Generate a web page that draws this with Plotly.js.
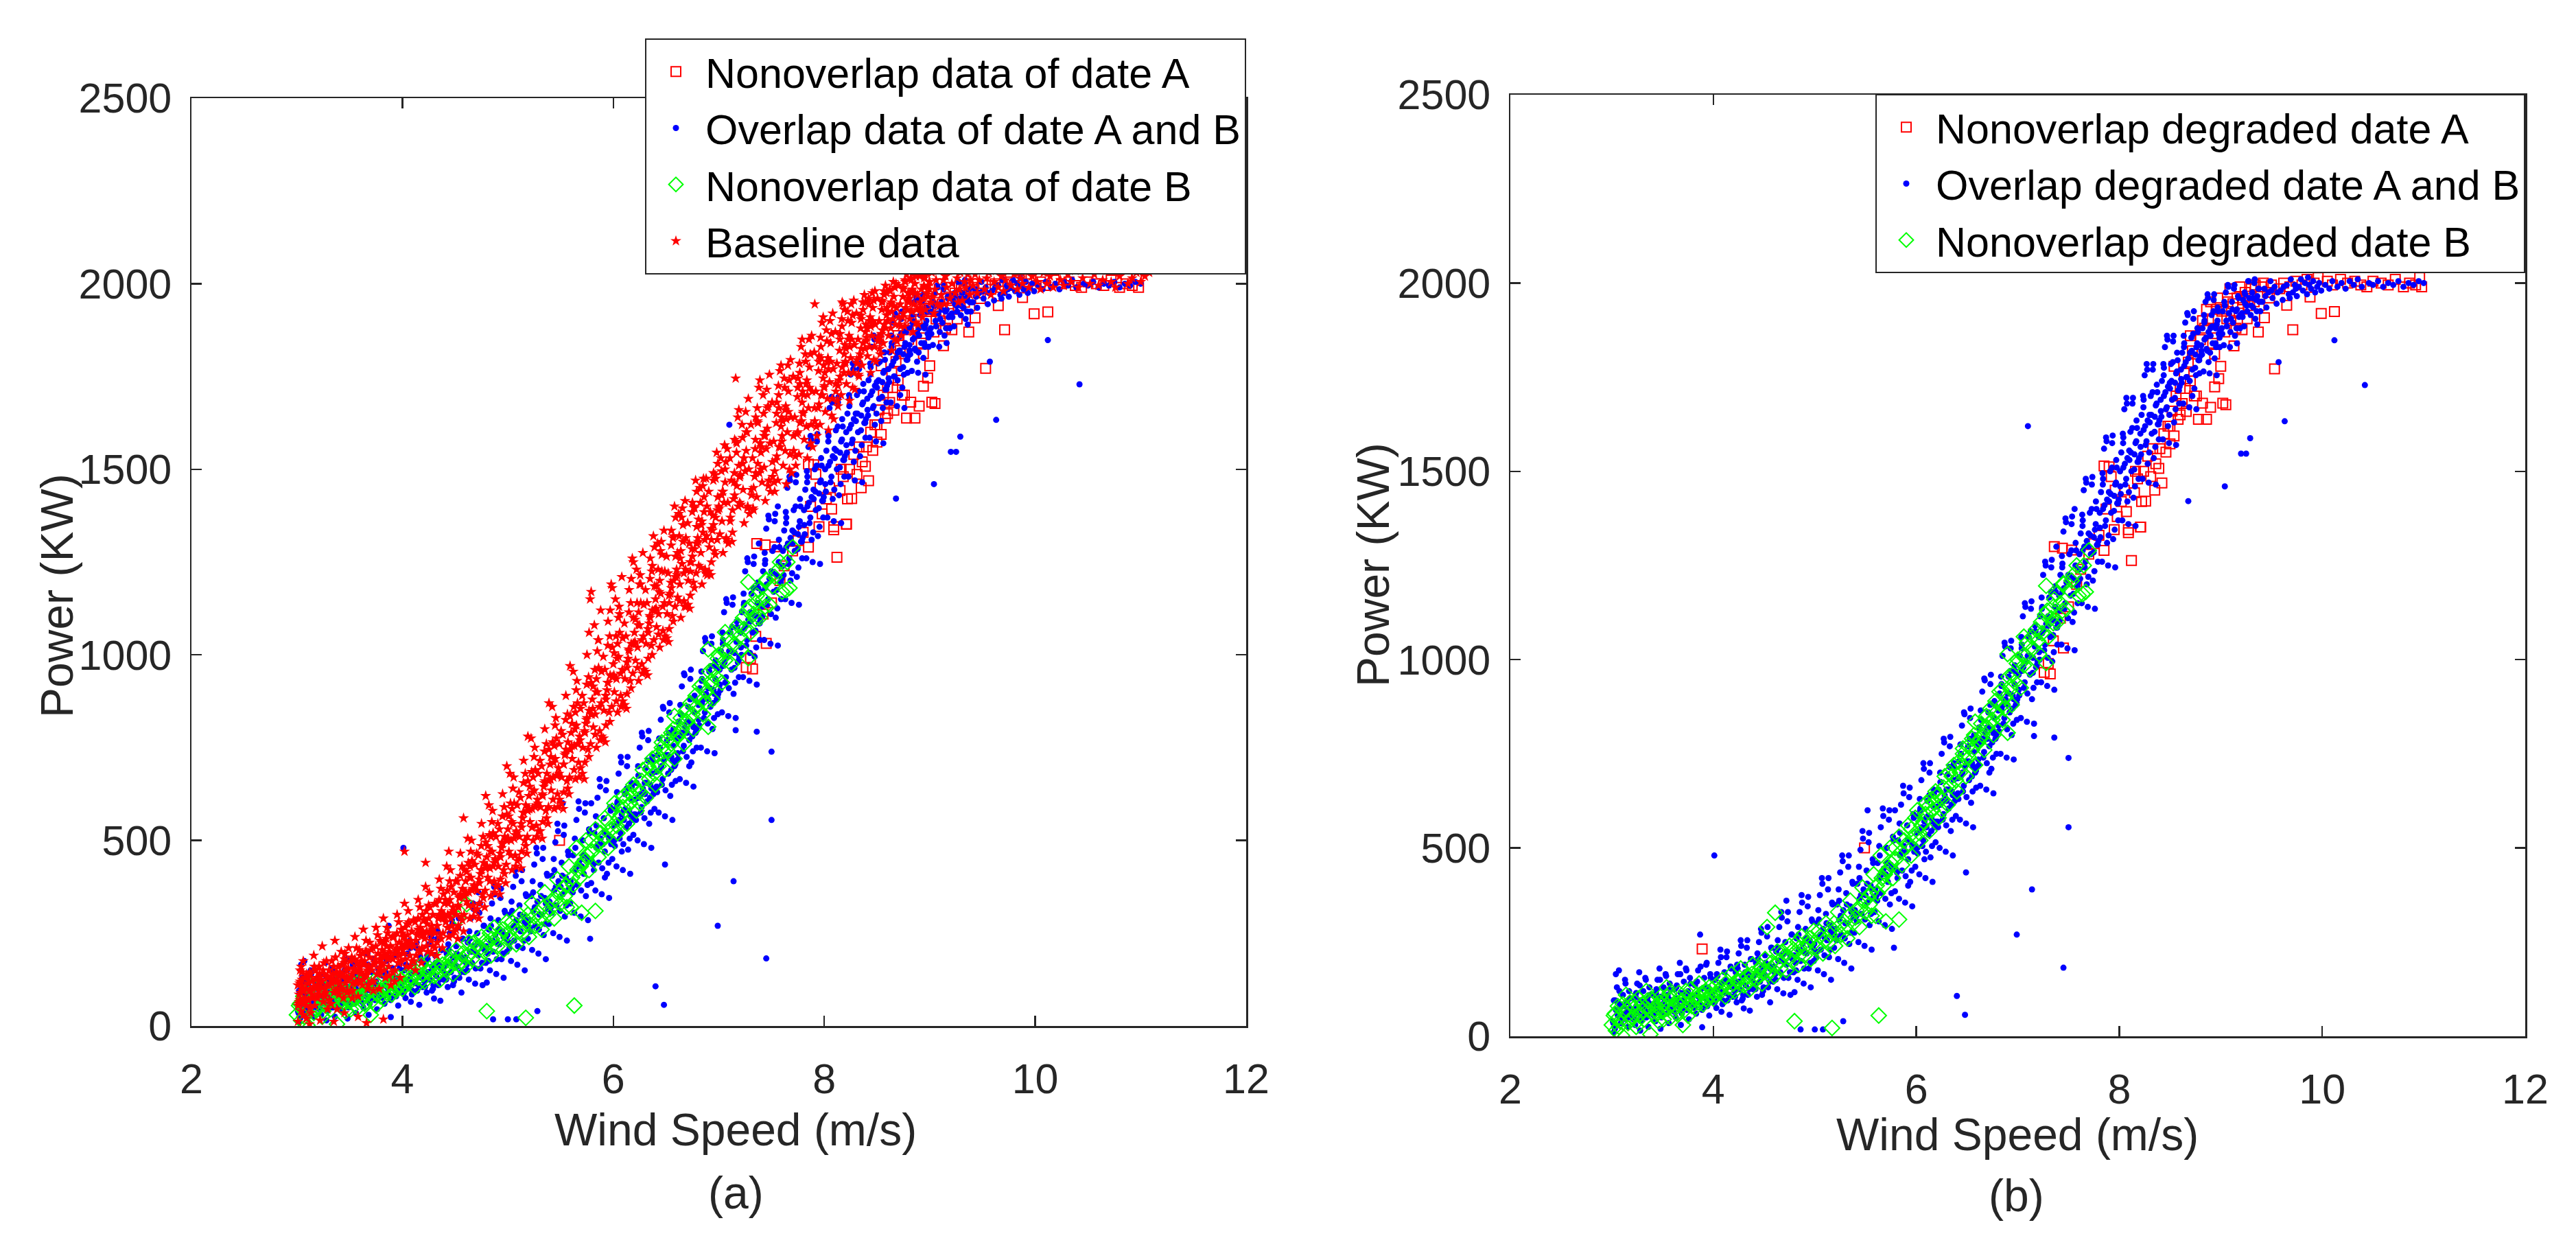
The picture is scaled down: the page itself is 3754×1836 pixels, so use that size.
<!DOCTYPE html>
<html>
<head>
<meta charset="utf-8">
<script src="https://cdn.plot.ly/plotly-3.0.1.min.js"></script>
<style>
html,body{margin:0;padding:0;background:#fff;}
#chart{width:3754px;height:1836px;}
</style>
</head>
<body>
<div id="chart"></div>
<script>
// ---------------- DATA (wind speed m/s, power kW), flat [x,y,x,y,...] ----------------
const baselinePairs = [
3.01,12,3.02,85,3.03,150,3.04,40,3.05,110,3.06,175,3.07,60,3.08,130,3.09,20,3.02,65,3.05,95,3.08,75,3.03,120,3.06,30,3.09,140,3.04,160,3.01,55,
3.12,5,3.35,12,3.58,25,3.66,8,3.82,18,3.45,35,
3.11,70,3.12,145,3.13,35,3.15,100,3.16,190,3.17,55,3.18,125,3.19,80,3.21,160,3.22,15,3.23,105,3.24,215,3.25,65,3.26,140,3.27,90,3.28,175,3.29,45,3.14,120,3.20,110,3.26,85,3.12,95,3.18,150,3.29,130,
3.31,110,3.32,60,3.33,175,3.34,140,3.35,90,3.36,230,3.37,120,3.38,45,3.39,160,3.41,100,3.42,200,3.43,135,3.44,75,3.45,180,3.46,115,3.47,150,3.48,95,3.49,210,3.33,125,3.38,145,3.44,165,3.40,85,3.47,130,
3.51,130,3.52,185,3.53,95,3.54,155,3.55,240,3.56,120,3.57,170,3.58,80,3.59,205,3.61,145,3.62,110,3.63,260,3.64,175,3.65,135,3.66,200,3.67,100,3.68,160,3.69,225,3.55,150,3.60,190,3.66,140,3.53,115,
3.71,150,3.72,210,3.73,120,3.74,180,3.75,265,3.76,140,3.77,195,3.78,100,3.79,230,3.81,165,3.82,290,3.83,185,3.84,130,3.85,215,3.86,250,3.87,160,3.88,200,3.89,110,3.74,170,3.80,225,3.86,185,3.78,155,
3.91,180,3.92,240,3.93,150,3.94,205,3.95,300,3.96,170,3.97,225,3.98,130,3.99,260,4.01,195,4.02,330,4.03,215,4.04,160,4.05,245,4.06,280,4.07,190,4.08,230,4.09,175,3.95,210,4.00,250,4.06,220,4.02,470,3.97,190,
4.11,215,4.12,280,4.13,190,4.14,245,4.15,340,4.16,205,4.17,265,4.18,170,4.19,300,4.21,235,4.22,375,4.23,255,4.24,200,4.25,290,4.26,320,4.27,230,4.28,270,4.29,215,4.15,260,4.20,285,4.26,250,4.13,230,4.22,440,
4.31,250,4.32,330,4.33,225,4.34,290,4.35,395,4.36,245,4.37,310,4.38,210,4.39,355,4.41,280,4.42,430,4.43,300,4.44,240,4.45,340,4.46,375,4.47,270,4.48,320,4.49,255,4.35,300,4.40,330,4.46,290,4.33,270,4.44,470,
4.51,300,4.52,390,4.53,270,4.54,345,4.55,465,4.56,295,4.57,370,4.58,255,4.59,420,4.61,335,4.62,505,4.63,360,4.64,290,4.65,400,4.66,445,4.67,325,4.68,380,4.69,310,4.55,355,4.60,390,4.66,365,4.53,320,4.58,560,4.64,430,
4.71,365,4.72,460,4.73,330,4.74,410,4.75,545,4.76,355,4.77,440,4.78,320,4.79,495,4.81,400,4.82,595,4.83,425,4.84,350,4.85,470,4.86,520,4.87,390,4.88,450,4.89,375,4.75,420,4.80,455,4.86,430,4.73,385,4.79,620,4.84,510,
4.91,430,4.92,530,4.93,395,4.94,480,4.95,625,4.96,420,4.97,510,4.98,385,4.99,570,5.01,470,5.02,680,5.03,500,5.04,420,5.05,545,5.06,600,5.07,460,5.08,525,5.09,445,4.95,490,5.00,530,5.06,505,4.93,455,4.99,700,5.04,585,
5.11,510,5.12,615,5.13,470,5.14,560,5.15,715,5.16,500,5.17,595,5.18,465,5.19,660,5.21,550,5.22,775,5.23,585,5.24,500,5.25,635,5.26,690,5.27,540,5.28,610,5.29,525,5.15,575,5.20,620,5.26,590,5.13,535,5.19,780,5.24,670,
5.31,590,5.32,700,5.33,550,5.34,645,5.35,800,5.36,580,5.37,680,5.38,545,5.39,745,5.41,635,5.42,860,5.43,670,5.44,585,5.45,720,5.46,775,5.47,625,5.48,695,5.49,610,5.35,660,5.40,705,5.46,675,5.33,620,5.39,870,5.44,755,
5.51,670,5.52,785,5.53,630,5.54,730,5.55,890,5.56,660,5.57,765,5.58,625,5.59,835,5.61,720,5.62,955,5.63,755,5.64,665,5.65,810,5.66,870,5.67,710,5.68,780,5.69,695,5.55,745,5.60,790,5.66,760,5.53,705,5.59,970,5.64,845,
5.71,750,5.72,870,5.73,710,5.74,815,5.75,1000,5.76,745,5.77,850,5.78,1150,5.79,925,5.81,805,5.82,1080,5.83,840,5.84,750,5.85,900,5.86,965,5.87,795,5.88,1120,5.89,780,5.75,830,5.80,880,5.86,1040,5.73,790,5.79,1170,5.84,935,5.77,1060,
5.91,850,5.92,960,5.93,810,5.94,905,5.95,1090,5.96,845,5.97,945,5.98,1190,5.99,1020,6.01,900,6.02,1150,6.03,935,6.04,845,6.05,995,6.06,1060,6.07,890,6.08,1210,6.09,875,5.95,925,6.00,975,6.06,1110,5.93,880,5.99,1180,6.04,1030,5.97,1120,
6.11,935,6.12,1050,6.13,895,6.14,990,6.15,1175,6.16,930,6.17,1030,6.18,1260,6.19,1100,6.21,985,6.22,1230,6.23,1020,6.24,930,6.25,1080,6.26,1140,6.27,975,6.28,1275,6.29,960,6.15,1010,6.20,1060,6.26,1190,6.13,965,6.19,1250,6.24,1115,6.17,1205,
6.31,1030,6.32,1140,6.33,990,6.34,1085,6.35,1260,6.36,1025,6.37,1120,6.38,1320,6.39,1185,6.41,1075,6.42,1300,6.43,1110,6.44,1020,6.45,1165,6.46,1225,6.47,1065,6.48,1335,6.49,1050,6.35,1100,6.40,1150,6.46,1270,6.33,1060,6.39,1290,6.44,1200,6.37,1240,
6.51,1110,6.52,1220,6.53,1070,6.54,1165,6.55,1335,6.56,1105,6.57,1200,6.58,1400,6.59,1265,6.61,1155,6.62,1380,6.63,1190,6.64,1100,6.65,1245,6.66,1305,6.67,1145,6.68,1415,6.69,1130,6.55,1180,6.60,1230,6.66,1350,6.53,1140,6.59,1370,6.64,1280,6.57,1320,
6.71,1200,6.72,1300,6.73,1160,6.74,1250,6.75,1410,6.76,1195,6.77,1285,6.78,1470,6.79,1345,6.81,1240,6.82,1450,6.83,1275,6.84,1190,6.85,1330,6.86,1385,6.87,1230,6.88,1475,6.89,1215,6.75,1265,6.80,1315,6.86,1425,6.73,1225,6.79,1440,6.84,1360,6.77,1395,
6.91,1290,6.92,1385,6.93,1250,6.94,1335,6.95,1490,6.96,1280,6.97,1370,6.98,1545,6.99,1425,7.01,1325,7.02,1530,7.03,1360,7.04,1275,7.05,1410,7.06,1465,7.07,1315,7.08,1555,7.09,1300,6.95,1350,7.00,1400,7.06,1500,6.93,1310,6.99,1515,7.04,1440,6.97,1475,
7.11,1370,7.12,1470,7.13,1330,7.14,1420,7.15,1580,7.16,1745,7.17,1455,7.18,1640,7.19,1510,7.21,1405,7.22,1620,7.23,1445,7.24,1355,7.25,1495,7.26,1550,7.27,1395,7.28,1690,7.29,1380,7.15,1430,7.20,1480,7.26,1600,7.13,1390,7.19,1660,7.24,1530,7.17,1570,
7.31,1430,7.32,1530,7.33,1390,7.34,1480,7.35,1640,7.36,1425,7.37,1515,7.38,1720,7.39,1570,7.41,1465,7.42,1700,7.43,1505,7.44,1415,7.45,1555,7.46,1610,7.47,1455,7.48,1755,7.49,1440,7.35,1490,7.40,1545,7.46,1665,7.33,1450,7.39,1740,7.44,1590,7.37,1625,
7.51,1480,7.52,1575,7.53,1440,7.54,1525,7.55,1680,7.56,1470,7.57,1560,7.58,1765,7.59,1615,7.61,1510,7.62,1745,7.63,1550,7.64,1460,7.65,1600,7.66,1655,7.67,1500,7.68,1795,7.69,1490,7.55,1535,7.60,1590,7.66,1710,7.53,1495,7.59,1780,7.64,1635,7.57,1665,
7.71,1550,7.72,1640,7.73,1510,7.74,1595,7.75,1745,7.76,1540,7.77,1625,7.78,1830,7.79,1680,7.81,1580,7.82,1810,7.83,1615,7.84,1530,7.85,1665,7.86,1720,7.87,1570,7.88,1860,7.89,1560,7.75,1600,7.80,1655,7.86,1775,7.91,1945,7.79,1850,7.84,1700,7.77,1730,
7.91,1630,7.92,1710,7.93,1590,7.94,1665,7.95,1805,7.96,1620,7.97,1700,7.98,1895,7.99,1745,8.01,1655,8.02,1875,8.03,1690,8.04,1605,8.05,1735,8.06,1790,8.07,1645,8.08,1920,8.09,1635,7.95,1675,8.00,1725,8.06,1840,8.17,1950,7.99,1910,8.04,1770,7.97,1800,
8.11,1710,8.12,1785,8.13,1670,8.14,1740,8.15,1865,8.16,1700,8.17,1775,8.18,1945,8.19,1810,8.21,1730,8.22,1925,8.23,1760,8.24,1685,8.25,1800,8.26,1850,8.27,1720,8.28,1955,8.29,1715,8.15,1750,8.20,1790,8.26,1895,8.13,1725,8.19,1930,8.24,1830,
8.31,1785,8.32,1850,8.33,1750,8.34,1810,8.35,1915,8.36,1780,8.37,1840,8.38,1970,8.39,1870,8.41,1805,8.42,1960,8.43,1830,8.44,1760,8.45,1860,8.46,1900,8.47,1795,8.48,1980,8.49,1790,8.35,1825,8.40,1855,8.46,1935,8.33,1800,8.39,1950,8.44,1885,
8.51,1845,8.52,1900,8.53,1810,8.54,1865,8.55,1955,8.56,1840,8.57,1890,8.58,1995,8.59,1915,8.61,1860,8.62,1985,8.63,1880,8.64,1820,8.65,1905,8.66,1940,8.67,1850,8.68,2000,8.69,1845,8.55,1875,8.60,1900,8.66,1965,8.53,1855,8.59,1975,8.64,1925,
8.71,1890,8.72,1945,8.73,1860,8.74,1910,8.75,1990,8.76,1885,8.77,1935,8.78,2025,8.79,1955,8.81,1905,8.82,2015,8.83,1925,8.84,1870,8.85,1945,8.86,1975,8.87,1895,8.88,2030,8.89,1890,8.75,1920,8.80,1960,8.86,2000,8.83,1980,
8.91,1935,8.92,1985,8.93,1910,8.94,1960,8.95,2020,8.96,1930,8.97,1975,8.98,2040,8.99,1995,9.01,1950,9.02,2030,9.03,1965,9.04,1920,9.05,1985,9.06,2010,9.07,1945,9.08,2035,9.09,1940,8.95,1990,9.00,2005,
9.11,1970,9.13,2010,9.14,1945,9.16,1990,9.18,2035,9.19,1960,9.21,2000,9.23,2040,9.24,1975,9.26,2015,9.28,1985,9.29,2030,9.31,1955,9.33,2005,9.34,1990,9.36,2025,9.38,1970,9.39,2010,9.15,2020,9.27,1950,
9.41,1995,9.43,2025,9.45,1975,9.47,2010,9.49,2040,9.52,1985,9.54,2015,9.56,2030,9.58,1970,9.61,2005,9.63,2035,9.65,1990,9.68,2020,9.70,1980,9.72,2010,9.75,2040,9.77,1995,9.80,2025,9.83,1985,9.86,2015,9.88,2000,9.91,2035,9.94,1990,9.97,2020,
10.02,2005,10.05,1985,10.08,2030,10.11,2000,10.14,2020,10.17,1990,10.21,2040,10.24,2010,10.27,1995,10.31,2025,10.34,2005,10.38,2035,10.41,1990,10.45,2015,10.49,2045,10.52,2000,10.56,2025,10.60,1995,10.64,2010,10.68,2035,10.72,2005,10.76,1990,10.80,2020,10.84,2040,10.88,2000,10.92,2015,10.96,2030,11.00,2005,11.04,2020,11.08,2030,
3.015,60,3.025,115,3.035,90,3.045,145,3.065,70,3.085,100,3.105,130,3.125,50,3.145,85,3.165,160,3.185,105,3.195,75,
3.205,95,3.215,140,3.235,120,3.255,170,3.265,80,3.285,110,3.305,150,3.325,60,3.345,125,3.365,185,3.385,100,3.395,135,
3.405,115,3.425,165,3.435,140,3.455,195,3.475,90,3.485,130,3.505,175,3.525,75,3.545,150,3.565,210,3.585,120,3.595,160,
3.605,140,3.625,195,3.635,165,3.655,230,3.675,110,3.685,155,3.705,205,3.725,95,3.745,180,3.765,245,3.785,145,3.795,190,
3.805,170,3.825,225,3.835,195,3.855,265,3.875,135,3.885,185,3.905,240,3.925,120,3.945,210,3.965,280,3.985,175,3.995,220,
4.005,205,4.025,265,4.035,230,4.055,310,4.075,160,4.085,220,4.105,285,4.125,150,4.145,250,4.165,320,4.185,210,4.195,255,
4.205,245,4.225,310,4.235,275,4.255,360,4.275,195,4.285,260,4.305,330,4.325,190,4.345,295,4.365,370,4.385,250,4.395,300,
4.405,295,4.425,365,4.435,330,4.455,420,4.475,245,4.485,310,4.505,390,4.525,235,4.545,350,4.565,430,4.585,300,4.595,360,
4.605,360,4.625,440,4.635,400,4.655,500,4.675,295,4.685,375,4.705,465,4.725,290,4.745,420,4.765,510,4.785,365,4.795,430,
4.805,430,4.825,515,4.835,470,4.855,580,4.875,360,4.885,445,4.905,545,4.925,355,4.945,495,4.965,590,4.985,435,4.995,505,
5.005,505,5.025,600,5.035,550,5.055,670,5.075,430,5.085,520,5.105,630,5.125,425,5.145,575,5.165,680,5.185,510,5.195,585,
5.205,585,5.225,685,5.235,630,5.255,750,5.275,510,5.285,600,5.305,715,5.325,505,5.345,655,5.365,760,5.385,590,5.395,665,
5.405,665,5.425,765,5.435,710,5.455,830,5.475,590,5.485,680,5.505,795,5.525,585,5.545,735,5.565,840,5.585,670,5.595,745,
5.605,755,5.625,860,5.635,800,5.655,930,5.675,670,5.685,770,5.705,890,5.725,665,5.745,825,5.765,940,5.785,760,5.795,840,
5.805,855,5.825,960,5.835,900,5.855,1040,5.875,770,5.885,870,5.905,995,5.925,765,5.945,925,5.965,1050,5.985,860,5.995,940,
6.005,945,6.025,1050,6.035,990,6.055,1130,6.075,860,6.085,960,6.105,1085,6.125,855,6.145,1015,6.165,1140,6.185,950,6.195,1030,
6.205,1035,6.225,1140,6.235,1080,6.255,1215,6.275,950,6.285,1050,6.305,1175,6.325,945,6.345,1105,6.365,1225,6.385,1040,6.395,1120,
6.405,1125,6.425,1230,6.435,1170,6.455,1305,6.475,1040,6.485,1140,6.505,1265,6.525,1035,6.545,1195,6.565,1315,6.585,1130,6.595,1210,
6.605,1215,6.625,1320,6.635,1260,6.655,1395,6.675,1130,6.685,1230,6.705,1355,6.725,1125,6.745,1285,6.765,1400,6.785,1220,6.795,1300,
6.805,1305,6.825,1410,6.835,1350,6.855,1475,6.875,1220,6.885,1320,6.905,1440,6.925,1215,6.945,1375,6.965,1485,6.985,1310,6.995,1390,
7.005,1395,7.025,1495,7.035,1440,7.055,1565,7.075,1310,7.085,1410,7.105,1530,7.125,1305,7.145,1465,7.165,1575,7.185,1400,7.195,1480,
7.205,1485,7.225,1585,7.235,1530,7.255,1655,7.275,1400,7.285,1500,7.305,1620,7.325,1395,7.345,1555,7.365,1665,7.385,1490,7.395,1570,
7.405,1560,7.425,1650,7.435,1600,7.455,1715,7.475,1470,7.485,1570,7.505,1680,7.525,1465,7.545,1625,7.565,1725,7.585,1560,7.595,1640,
7.605,1630,7.625,1720,7.635,1670,7.655,1780,7.675,1540,7.685,1640,7.705,1750,7.725,1535,7.745,1695,7.765,1785,7.785,1630,7.795,1710,
7.805,1700,7.825,1790,7.835,1740,7.855,1850,7.875,1620,7.885,1710,7.905,1815,7.925,1615,7.945,1765,7.965,1855,7.985,1700,7.995,1780,
8.005,1760,8.025,1845,8.035,1800,8.055,1900,8.075,1690,8.085,1770,8.105,1870,8.125,1685,8.145,1820,8.165,1905,8.185,1760,8.195,1835,
8.205,1825,8.225,1900,8.235,1860,8.255,1945,8.275,1760,8.285,1835,8.305,1920,8.325,1755,8.345,1880,8.365,1950,8.385,1825,8.395,1890,
8.405,1880,8.425,1945,8.435,1910,8.455,1975,8.475,1830,8.485,1890,8.505,1960,8.525,1825,8.545,1930,8.565,1980,8.585,1880,8.595,1935,
8.605,1925,8.625,1980,8.635,1950,8.655,2005,8.675,1890,8.685,1935,8.705,1995,8.725,1885,8.745,1965,8.765,2010,8.785,1930,8.795,1975,
8.805,1960,8.825,2010,8.835,1985,8.855,2030,8.875,1930,8.885,1970,8.905,2020,8.925,1925,8.945,1995,8.965,2035,8.985,1965,8.995,2005,
3.008,110,3.028,70,3.048,125,3.068,95,3.088,55,3.108,115,3.128,140,3.148,75,3.168,105,3.188,130,
3.208,85,3.228,125,3.248,150,3.268,100,3.288,135,3.308,70,3.328,115,3.348,160,3.368,95,3.388,120,
3.408,145,3.428,100,3.448,170,3.468,125,3.488,155,3.508,95,3.528,140,3.548,180,3.568,115,3.588,150,
3.608,175,3.628,125,3.648,200,3.668,150,3.688,185,3.708,120,3.728,165,3.748,215,3.768,140,3.788,180,
3.808,205,3.828,150,3.848,235,3.868,180,3.888,215,3.908,145,3.928,195,3.948,250,3.968,170,3.988,210,
4.008,240,4.028,180,4.048,275,4.068,215,4.088,255,4.108,175,4.128,230,4.148,290,4.168,200,4.188,245,
4.208,285,4.228,215,4.248,325,4.268,255,4.288,300,4.308,210,4.328,270,4.348,340,4.368,235,4.388,290,
4.408,340,4.428,265,4.448,390,4.468,305,4.488,360,4.508,260,4.528,325,4.548,405,4.568,285,4.588,350,
4.608,415,4.628,325,4.648,470,4.668,370,4.688,435,4.708,315,4.728,395,4.748,485,4.768,345,4.788,425,
4.808,485,4.828,390,4.848,550,4.868,440,4.888,510,4.908,380,4.928,465,4.948,565,4.968,410,4.988,500,
5.008,565,5.028,460,5.048,640,5.068,515,5.088,595,5.108,450,5.128,545,5.148,655,5.168,485,5.188,580,
5.208,645,5.228,535,5.248,725,5.268,595,5.288,680,5.308,525,5.328,625,5.348,740,5.368,560,5.388,660,
5.408,725,5.428,610,5.448,810,5.468,675,5.488,760,5.508,600,5.528,705,5.548,825,5.568,640,5.588,745,
5.608,815,5.628,690,5.648,905,5.668,760,5.688,855,5.708,680,5.728,795,5.748,920,5.768,725,5.788,840,
5.808,915,5.828,785,5.848,1010,5.868,860,5.888,955,5.908,775,5.928,890,5.948,1025,5.968,820,5.988,940,
6.008,1005,6.028,875,6.048,1100,6.068,950,6.088,1045,6.108,865,6.128,980,6.148,1115,6.168,910,6.188,1030,
6.208,1095,6.228,965,6.248,1190,6.268,1040,6.288,1135,6.308,955,6.328,1070,6.348,1205,6.368,1000,6.388,1120,
6.408,1185,6.428,1055,6.448,1280,6.468,1130,6.488,1225,6.508,1045,6.528,1160,6.548,1295,6.568,1090,6.588,1210,
6.608,1275,6.628,1145,6.648,1370,6.668,1220,6.688,1315,6.708,1135,6.728,1250,6.748,1385,6.768,1180,6.788,1300,
6.808,1365,6.828,1235,6.848,1455,6.868,1310,6.888,1400,6.908,1225,6.928,1340,6.948,1470,6.968,1270,6.988,1390,
7.028,1430,7.068,1520,7.108,1360,7.148,1490,7.168,1545,7.198,1410,
7.228,1515,7.268,1600,7.308,1445,7.348,1580,7.368,1630,7.398,1500,
7.428,1590,7.468,1670,7.508,1520,7.548,1650,7.568,1700,7.598,1575,
7.628,1660,7.668,1740,7.708,1590,7.748,1720,7.768,1760,7.798,1650,
7.828,1730,7.868,1810,7.908,1665,7.948,1790,7.968,1830,7.998,1720,
8.028,1790,8.068,1865,8.108,1730,8.148,1850,8.168,1885,8.198,1785,
8.228,1850,8.268,1915,8.308,1795,8.348,1905,8.368,1930,8.398,1845,
8.428,1900,8.468,1955,8.508,1855,8.548,1950,8.568,1970,8.598,1900,
8.628,1945,8.668,1990,8.708,1910,8.748,1985,8.768,2005,8.798,1950,
8.828,1975,8.868,2020,8.908,1950,8.948,2015,8.968,2030,8.998,1985
];

const overlapPairs = [
3.01,40,3.02,95,3.03,20,3.04,70,3.05,130,3.06,55,3.07,175,3.08,85,3.09,35,3.11,110,3.12,60,3.13,150,3.14,45,3.15,90,3.16,25,3.17,120,3.18,75,3.19,50,3.04,165,3.10,80,3.15,65,3.02,10,
3.21,55,3.22,100,3.23,30,3.24,80,3.25,140,3.26,60,3.27,170,3.28,95,3.29,40,3.31,120,3.32,70,3.33,155,3.34,50,3.35,100,3.36,25,3.37,130,3.38,85,3.39,60,3.24,115,3.30,75,3.36,90,3.28,15,
3.41,65,3.42,110,3.43,40,3.44,90,3.45,150,3.46,70,3.47,180,3.48,105,3.49,50,3.51,130,3.52,80,3.53,165,3.54,60,3.55,110,3.56,35,3.57,140,3.58,95,3.59,70,3.44,125,3.50,85,3.56,100,3.48,20,
3.61,75,3.62,125,3.63,50,3.64,100,3.65,165,3.66,80,3.67,195,3.68,115,3.69,60,3.71,145,3.72,90,3.73,180,3.74,70,3.75,120,3.76,45,3.77,155,3.78,105,3.79,80,3.64,135,3.70,95,3.76,110,3.68,30,
3.81,85,3.82,135,3.83,60,3.84,110,3.85,175,3.86,90,3.87,270,3.88,125,3.89,70,3.91,155,3.92,100,3.93,190,3.94,80,3.95,130,3.96,55,3.97,165,3.98,115,3.99,90,3.84,145,3.89,24,3.96,120,4.01,480,
4.01,100,4.02,150,4.03,75,4.04,125,4.05,195,4.06,105,4.07,230,4.08,140,4.09,85,4.11,170,4.12,115,4.13,210,4.14,95,4.15,145,4.16,57,4.17,185,4.18,130,4.19,105,4.04,160,4.10,120,4.16,135,4.08,65,
4.21,120,4.22,170,4.23,90,4.24,145,4.25,220,4.26,125,4.27,255,4.28,160,4.29,100,4.31,190,4.32,135,4.33,235,4.34,110,4.35,165,4.36,68,4.37,205,4.38,150,4.39,125,4.24,180,4.30,74,4.36,155,4.28,95,
4.41,140,4.42,195,4.43,105,4.44,170,4.45,250,4.46,145,4.47,285,4.48,185,4.49,120,4.51,215,4.52,160,4.53,265,4.54,130,4.55,190,4.56,90,4.57,235,4.58,175,4.59,145,4.44,205,4.50,165,4.56,180,4.48,110,
4.61,165,4.62,225,4.63,125,4.64,200,4.65,290,4.66,170,4.67,330,4.68,215,4.69,114,4.71,250,4.72,190,4.73,305,4.74,155,4.75,220,4.76,110,4.77,270,4.78,205,4.79,170,4.64,235,4.70,195,4.76,210,4.80,117,4.72,360,
4.81,195,4.82,260,4.83,150,4.84,230,4.85,330,4.86,200,4.87,375,4.88,245,4.89,140,4.91,285,4.92,220,4.93,345,4.94,180,4.95,255,4.96,130,4.97,310,4.98,235,4.99,200,4.84,270,4.90,225,4.96,240,4.86,18,5.00,18,
5.01,225,5.02,300,5.03,175,5.04,265,5.05,375,5.06,230,5.07,420,5.08,285,5.09,165,5.11,325,5.12,255,5.13,390,5.14,210,5.15,295,5.16,150,5.17,355,5.18,270,5.19,235,5.04,310,5.10,260,5.16,280,5.08,18,
5.21,265,5.22,350,5.23,205,5.24,310,5.25,435,5.26,270,5.27,480,5.28,335,5.29,195,5.31,380,5.32,300,5.33,450,5.34,245,5.35,345,5.36,180,5.37,410,5.38,315,5.39,275,5.24,360,5.28,40,5.36,330,5.30,300,
5.41,320,5.42,405,5.43,250,5.44,365,5.45,495,5.46,325,5.47,545,5.48,390,5.49,240,5.51,440,5.52,355,5.53,515,5.54,295,5.55,400,5.56,230,5.57,470,5.58,370,5.59,330,5.44,420,5.50,375,5.56,390,5.52,600,
5.61,375,5.62,460,5.63,305,5.64,420,5.65,555,5.66,380,5.67,605,5.68,445,5.69,295,5.71,500,5.72,410,5.73,575,5.74,350,5.75,455,5.76,285,5.77,530,5.78,235,5.79,385,5.64,480,5.70,430,5.76,445,5.79,600,
5.81,435,5.82,520,5.83,365,5.84,480,5.85,615,5.86,440,5.87,665,5.88,505,5.89,355,5.91,560,5.92,470,5.93,635,5.94,410,5.95,515,5.96,345,5.97,590,5.98,490,5.99,450,5.84,540,5.90,490,5.96,505,5.92,400,
6.01,500,6.02,585,6.03,430,6.04,545,6.05,680,6.06,505,6.07,725,6.08,570,6.09,420,6.11,625,6.12,535,6.13,700,6.14,475,6.15,580,6.16,410,6.17,655,6.18,555,6.19,515,6.04,605,6.10,555,6.16,570,6.08,470,
6.21,570,6.22,655,6.23,500,6.24,615,6.25,750,6.26,575,6.27,790,6.28,640,6.29,490,6.31,695,6.32,605,6.33,770,6.34,545,6.35,650,6.36,480,6.37,725,6.38,625,6.39,585,6.24,675,6.30,625,6.36,640,6.40,107,
6.41,645,6.42,730,6.43,575,6.44,690,6.45,825,6.46,650,6.47,860,6.48,715,6.49,565,6.51,770,6.52,680,6.53,845,6.54,620,6.55,725,6.56,555,6.57,800,6.58,700,6.59,660,6.44,750,6.48,57,6.49,435,6.56,715,
6.61,735,6.62,820,6.63,665,6.64,780,6.65,915,6.66,740,6.67,950,6.68,805,6.69,655,6.71,860,6.72,770,6.73,935,6.74,710,6.75,815,6.76,645,6.77,890,6.78,790,6.79,750,6.64,840,6.70,790,6.76,805,6.72,700,
6.81,825,6.82,910,6.83,750,6.84,870,6.85,1010,6.86,830,6.87,1045,6.88,895,6.89,740,6.91,955,6.92,860,6.93,1030,6.94,800,6.95,905,6.96,735,6.97,985,6.98,880,6.99,840,6.84,935,6.90,880,6.96,895,6.99,270,
7.01,920,7.02,1010,7.03,845,7.04,970,7.05,1115,7.06,925,7.07,1150,7.08,995,7.09,835,7.11,1060,7.12,960,7.13,1135,7.14,895,7.15,1005,7.16,830,7.17,1090,7.18,980,7.19,940,7.04,1040,7.10,1620,7.14,390,7.16,797,
7.21,1020,7.22,1115,7.23,940,7.24,1070,7.25,1225,7.26,1025,7.27,1260,7.28,1095,7.29,930,7.31,1165,7.32,1060,7.33,1245,7.34,995,7.35,1105,7.36,920,7.37,1195,7.38,1085,7.39,1040,7.24,1140,7.30,1090,7.36,793,7.38,1300,
7.41,1130,7.42,1225,7.43,1040,7.44,1180,7.45,1340,7.46,1135,7.47,1375,7.48,1205,7.49,1030,7.51,1280,7.52,1170,7.53,1360,7.54,1100,7.55,1215,7.56,1025,7.57,1310,7.58,1195,7.59,1150,7.45,182,7.50,555,7.50,739,7.44,1255,7.56,1400,
7.61,1240,7.62,1335,7.63,1150,7.64,1290,7.65,1450,7.66,1245,7.67,1480,7.68,1315,7.69,1140,7.71,1390,7.72,1280,7.73,1465,7.74,1210,7.75,1325,7.76,1135,7.77,1420,7.78,1305,7.79,1260,7.64,1370,7.70,1300,7.76,1345,7.68,1200,
7.81,1350,7.82,1445,7.83,1260,7.84,1400,7.85,1560,7.86,1355,7.87,1590,7.88,1425,7.89,1250,7.91,1500,7.92,1390,7.93,1575,7.94,1320,7.95,1435,7.96,1245,7.97,1530,7.98,1415,7.99,1370,7.84,1480,7.90,1420,7.96,1465,7.88,1310,
8.01,1460,8.02,1550,8.03,1370,8.04,1510,8.05,1665,8.06,1465,8.07,1695,8.08,1535,8.09,1360,8.11,1605,8.12,1500,8.13,1680,8.14,1430,8.15,1545,8.16,1355,8.17,1635,8.18,1525,8.19,1480,8.04,1590,8.10,1530,8.16,1575,8.08,1420,
8.21,1565,8.22,1650,8.23,1480,8.24,1610,8.25,1755,8.26,1570,8.27,1785,8.28,1635,8.29,1470,8.31,1700,8.32,1600,8.33,1770,8.34,1535,8.35,1645,8.36,1465,8.37,1730,8.38,1625,8.39,1585,8.24,1690,8.30,1630,8.36,1675,8.28,1520,
8.41,1660,8.42,1740,8.43,1585,8.44,1700,8.45,1830,8.46,1665,8.47,1860,8.48,1725,8.49,1575,8.51,1785,8.52,1690,8.53,1845,8.54,1630,8.55,1735,8.56,1570,8.57,1815,8.58,1715,8.59,1680,8.44,1775,8.50,1720,8.56,1760,8.48,1620,
8.61,1745,8.62,1815,8.63,1680,8.64,1780,8.65,1895,8.66,1750,8.67,1920,8.68,1800,8.69,1670,8.71,1855,8.72,1770,8.73,1905,8.74,1720,8.75,1810,8.76,1665,8.77,1880,8.78,1795,8.79,1760,8.64,1840,8.68,1421,8.76,1830,8.72,1700,
8.81,1820,8.82,1880,8.83,1765,8.84,1850,8.85,1950,8.86,1825,8.87,1970,8.88,1870,8.89,1760,8.91,1915,8.92,1840,8.93,1955,8.94,1800,8.95,1880,8.96,1755,8.97,1935,8.98,1865,8.99,1830,8.84,1900,8.90,1860,8.96,1890,8.88,1790,
9.01,1880,9.02,1925,9.03,1835,9.04,1460,9.05,1975,9.06,1885,9.07,1995,9.08,1920,9.09,1830,9.11,1950,9.12,1895,9.13,1985,9.14,1860,9.15,1925,9.16,1840,9.17,1965,9.18,1910,9.19,1880,9.04,1940,9.10,1905,9.20,1547,9.16,1930,
9.21,1920,9.22,1955,9.23,1885,9.24,1945,9.25,1547,9.26,1925,9.27,2005,9.28,1960,9.29,1588,9.31,1975,9.32,1935,9.33,2000,9.34,1905,9.35,1955,9.36,1890,9.37,1985,9.38,1950,9.39,1925,9.24,1970,9.30,1940,9.36,1965,
9.41,1950,9.43,1985,9.45,1935,9.47,1975,9.49,2005,9.51,1960,9.53,1990,9.55,1945,9.57,1790,9.59,1980,9.61,1955,9.63,1633,9.65,1995,9.67,1970,9.69,2010,9.44,1965,9.50,1980,9.56,1975,9.62,1990,9.68,1960,
9.71,1975,9.73,1995,9.75,1965,9.77,1990,9.79,2010,9.81,1980,9.83,2000,9.85,1970,9.87,1995,9.89,1985,9.91,2005,9.93,1975,9.95,1990,9.97,2000,9.99,1980,9.74,1985,9.86,2015,
10.03,1995,10.07,1985,10.10,2005,10.12,1848,10.15,1990,10.19,2000,10.23,1985,10.27,2005,10.31,1995,10.35,2010,10.39,1990,10.42,1729,10.46,2000,10.50,1995,10.55,2005,10.60,1990,10.65,2000,10.70,1995,10.75,2005,10.80,1990,10.85,2000,10.90,1995,10.95,2005,11.00,2000,
3.015,35,3.035,95,3.055,60,3.075,120,3.095,45,3.115,80,3.135,140,3.155,55,3.175,100,3.195,70,
3.215,45,3.235,105,3.255,70,3.275,135,3.295,55,3.315,90,3.335,150,3.355,65,3.375,110,3.395,80,
3.415,55,3.435,115,3.455,80,3.475,150,3.495,60,3.515,100,3.535,160,3.555,75,3.575,125,3.595,90,
3.615,65,3.635,130,3.655,95,3.675,165,3.695,75,3.715,115,3.735,175,3.755,85,3.775,140,3.795,105,
3.815,75,3.835,145,3.855,105,3.875,185,3.895,80,3.915,130,3.935,195,3.955,95,3.975,155,3.995,115,
4.015,90,4.035,165,4.055,125,4.075,210,4.095,95,4.115,150,4.135,225,4.155,110,4.175,180,4.195,140,
4.215,105,4.235,190,4.255,145,4.275,240,4.295,110,4.315,170,4.335,255,4.355,125,4.375,205,4.395,160,
4.415,125,4.435,220,4.455,170,4.475,275,4.495,130,4.515,195,4.535,290,4.555,145,4.575,235,4.595,185,
4.615,150,4.635,255,4.655,200,4.675,315,4.695,155,4.715,225,4.735,330,4.755,170,4.775,270,4.795,215,
4.815,175,4.835,290,4.855,230,4.875,355,4.895,180,4.915,260,4.935,370,4.955,195,4.975,305,4.995,245,
5.015,210,5.035,335,5.055,270,5.075,405,5.095,215,5.115,300,5.135,420,5.155,230,5.175,350,5.195,285,
5.215,255,5.235,390,5.255,320,5.275,465,5.295,260,5.315,350,5.335,480,5.355,275,5.375,405,5.395,335,
5.415,305,5.435,450,5.455,375,5.475,525,5.495,310,5.515,405,5.535,540,5.555,325,5.575,460,5.595,390,
5.615,360,5.635,505,5.655,430,5.675,585,5.695,365,5.715,460,5.735,600,5.755,380,5.775,520,5.795,445,
5.815,420,5.835,565,5.855,490,5.875,645,5.895,425,5.915,520,5.935,660,5.955,440,5.975,580,5.995,505,
6.015,485,6.035,630,6.055,555,6.075,710,6.095,490,6.115,585,6.135,725,6.155,505,6.175,645,6.195,570,
6.215,555,6.235,700,6.255,625,6.275,780,6.295,560,6.315,655,6.335,795,6.355,575,6.375,715,6.395,640,
6.415,630,6.435,775,6.455,700,6.475,855,6.495,635,6.515,730,6.535,870,6.555,650,6.575,790,6.595,715,
6.615,720,6.635,865,6.655,790,6.675,945,6.695,725,6.715,820,6.735,960,6.755,740,6.775,880,6.795,805,
6.815,810,6.835,955,6.855,880,6.875,1035,6.895,815,6.915,910,6.935,1050,6.955,830,6.975,970,6.995,895,
7.015,905,7.035,1060,7.055,980,7.075,1140,7.095,910,7.115,1010,7.135,1155,7.155,925,7.175,1075,7.195,995,
7.215,1000,7.235,1165,7.255,1080,7.275,1250,7.295,1005,7.315,1110,7.335,1265,7.355,1020,7.375,1180,7.395,1095,
7.415,1105,7.435,1275,7.455,1190,7.475,1365,7.495,1110,7.515,1220,7.535,1380,7.555,1125,7.575,1290,7.595,1205,
7.615,1215,7.635,1385,7.655,1300,7.675,1470,7.695,1220,7.715,1330,7.735,1485,7.755,1235,7.775,1400,7.795,1315,
7.815,1325,7.835,1495,7.855,1410,7.875,1580,7.895,1330,7.915,1440,7.935,1595,7.955,1345,7.975,1510,7.995,1425,
8.015,1440,8.035,1600,8.055,1520,8.075,1680,8.095,1445,8.115,1550,8.135,1695,8.155,1460,8.175,1615,8.195,1535,
8.215,1545,8.235,1700,8.255,1620,8.275,1770,8.295,1550,8.315,1650,8.335,1785,8.355,1565,8.375,1710,8.395,1635,
8.415,1645,8.435,1785,8.455,1710,8.475,1850,8.495,1650,8.515,1740,8.535,1860,8.555,1665,8.575,1795,8.595,1725,
8.615,1735,8.635,1860,8.655,1790,8.675,1915,8.695,1740,8.715,1820,8.735,1925,8.755,1755,8.775,1870,8.795,1805,
8.815,1810,8.835,1915,8.855,1855,8.875,1960,8.895,1815,8.915,1885,8.935,1970,8.955,1830,8.975,1925,8.995,1870,
9.015,1865,9.035,1950,9.055,1900,9.075,1990,9.095,1870,9.115,1930,9.135,1995,9.155,1880,9.175,1960,9.195,1915,
9.215,1910,9.235,1975,9.255,1940,9.275,2005,9.295,1915,9.315,1960,9.335,2010,9.355,1925,9.375,1985,9.395,1950,
6.008,540,6.038,600,6.068,520,6.098,580,6.128,640,6.148,545,6.168,610,6.188,560,
6.208,610,6.238,675,6.268,590,6.298,655,6.328,715,6.348,615,6.368,680,6.388,630,
6.408,685,6.438,750,6.468,665,6.498,730,6.528,790,6.548,690,6.568,755,6.588,705,
6.608,775,6.638,840,6.668,755,6.698,820,6.728,880,6.748,780,6.768,845,6.788,795,
6.808,865,6.838,930,6.868,845,6.898,910,6.928,970,6.948,870,6.968,935,6.988,885,
7.008,960,7.038,1030,7.068,940,7.098,1010,7.128,1075,7.148,965,7.168,1035,7.188,985,
7.208,1060,7.238,1135,7.268,1040,7.298,1115,7.328,1180,7.348,1065,7.368,1140,7.388,1085,
7.408,1170,7.438,1245,7.468,1150,7.498,1225,7.528,1290,7.548,1175,7.568,1250,7.588,1195,
7.608,1280,7.638,1355,7.668,1260,7.698,1335,7.728,1400,7.748,1285,7.768,1360,7.788,1305,
7.808,1390,7.838,1465,7.868,1370,7.898,1445,7.928,1510,7.948,1395,7.968,1470,7.988,1415,
8.008,1500,8.038,1575,8.068,1480,8.098,1555,8.128,1615,8.148,1505,8.168,1580,8.188,1525,
8.208,1600,8.238,1670,8.268,1580,8.298,1650,8.328,1710,8.348,1605,8.368,1680,8.388,1625,
8.408,1690,8.438,1755,8.468,1670,8.498,1735,8.528,1790,8.548,1695,8.568,1765,8.588,1715,
8.608,1770,8.638,1830,8.668,1750,8.698,1815,8.728,1865,8.748,1775,8.768,1840,8.788,1795,
8.808,1835,8.838,1895,8.868,1820,8.898,1880,8.928,1925,8.948,1840,8.968,1900,8.988,1855
];

const nonoverlapBPairs = [
3.00,30,3.02,55,3.04,15,3.06,80,3.08,40,3.10,2,3.12,65,3.14,110,3.16,35,3.18,90,3.20,50,3.22,75,3.24,25,3.26,100,3.28,60,3.30,85,3.32,45,3.34,120,3.36,70,3.38,5,3.40,95,3.42,55,3.44,80,3.46,40,3.48,105,
3.50,65,3.52,90,3.54,130,3.56,75,3.58,50,3.60,100,3.62,80,3.64,60,3.66,115,3.68,90,3.70,30,3.72,70,3.74,105,3.76,85,3.78,125,3.80,95,3.82,75,3.84,110,3.86,140,3.88,100,3.90,85,3.92,120,3.94,95,3.96,130,3.98,110,
4.00,100,4.03,135,4.06,115,4.09,150,4.12,105,4.15,130,4.18,165,4.21,120,4.24,145,4.27,180,4.30,135,4.33,160,4.36,125,4.39,190,4.42,150,4.45,175,4.48,140,4.51,205,4.53,290,4.54,165,4.57,195,4.60,160,4.61,328,
4.63,225,4.66,180,4.69,210,4.72,175,4.75,240,4.78,200,4.80,40,4.81,225,4.84,190,4.87,265,4.90,215,4.93,245,4.96,205,4.99,280,
5.02,235,5.05,265,5.08,220,5.11,300,5.14,250,5.17,22,5.17,285,5.20,240,5.23,330,5.26,270,5.29,305,5.32,260,5.35,360,5.38,300,5.41,335,5.44,290,5.47,395,5.50,330,5.53,370,5.56,320,5.58,430,5.60,320,5.63,55,
5.62,380,5.65,480,5.68,400,5.70,305,5.71,440,5.74,500,5.77,420,5.80,470,5.83,310,5.83,530,5.86,455,5.89,500,5.92,560,5.95,480,5.98,530,
6.01,600,6.04,520,6.07,570,6.10,620,6.13,545,6.16,600,6.19,650,6.22,580,6.25,630,6.28,690,6.31,615,6.34,665,6.37,720,6.40,650,6.43,700,6.46,750,6.49,690,6.52,740,6.55,790,6.58,720,6.61,780,6.64,830,6.67,760,
6.70,820,6.73,870,6.76,800,6.79,860,6.82,915,6.85,840,6.88,900,6.91,955,6.94,880,6.97,940,7.00,1000,
7.03,925,7.06,985,7.09,1045,7.12,975,7.15,1030,7.18,1080,7.21,1015,7.24,1070,7.27,1120,7.30,1060,7.33,1110,7.36,1160,7.39,1100,7.42,1150,7.45,1200,7.48,1135,7.51,1185,7.55,1225,7.60,1170,7.65,1250,7.70,1290,7.67,1180,
3.05,45,3.15,70,3.25,40,3.35,95,3.45,60,3.55,105,3.65,85,3.75,55,3.85,90,3.95,105,4.05,120,4.20,140,4.35,145,4.50,170,4.65,200,4.85,235,5.00,250,5.15,270,5.30,290,5.45,340,5.55,380,5.66,420,5.75,460,5.85,490,
5.95,550,6.05,560,6.15,630,6.25,600,6.35,690,6.45,720,6.55,760,6.65,800,6.75,840,6.85,880,6.95,960,7.05,1010,7.20,1050,7.35,1140,
3.03,60,3.07,25,3.11,85,3.19,45,3.23,90,3.27,55,3.31,70,3.39,100,3.43,70,3.47,90,3.51,45,3.57,115,3.61,70,3.69,95,3.73,120,3.79,80,3.83,100,3.89,115,3.93,100,3.99,125,
4.02,110,4.08,130,4.14,145,4.19,125,4.26,155,4.32,140,4.38,165,4.44,160,4.47,185,4.56,175,4.62,190,4.68,225,4.74,210,4.79,230,4.83,250,4.89,235,4.95,260,
5.04,280,5.10,255,5.19,300,5.25,295,5.34,320,5.40,315,5.49,360,5.54,350,5.61,400,5.69,430,5.73,445,5.79,500,5.88,520,5.93,510,5.99,580,
6.03,540,6.09,590,6.12,610,6.18,620,6.21,640,6.27,660,6.33,700,6.39,680,6.42,730,6.48,740,6.51,770,6.57,800,6.63,790,6.69,850,6.72,830,6.78,890,6.84,920,6.87,870,6.93,930,6.99,990,
7.08,1010,7.14,1060,7.23,1100,7.29,1130,7.38,1175,7.44,1130,7.53,1210,7.58,1250,
7.06,1061,7.28,1196,7.45,1203,7.64,1174,7.35,1097,6.90,1015,7.28,991,6.93,921,6.90,806,6.58,835,6.46,764
];

const nonoverlapAPairs = [
3.89,232,5.49,500,
7.26,966,7.30,990,7.35,1050,7.45,1031,7.42,1110,7.50,1140,7.53,1291,7.58,1200,7.62,1240,7.70,1280,7.75,1308,7.80,1330,7.85,1290,7.90,1512,7.92,1486,7.95,1345,7.98,1380,7.36,1300,7.44,1296,
8.02,1420,8.07,1393,8.09,1345,8.12,1263,8.15,1443,8.18,1480,8.21,1352,8.24,1500,8.26,1421,8.28,1540,8.31,1486,8.33,1560,8.36,1520,8.39,1508,8.42,1469,8.44,1600,8.46,1551,8.48,1620,8.50,1573,8.52,1660,8.54,1594,8.54,1779,
8.56,1700,8.58,1638,8.60,1720,8.62,1680,8.64,1760,8.66,1659,8.68,1790,8.70,1740,8.72,1820,8.74,1811,8.76,1700,8.78,1638,8.80,1850,8.82,1681,8.84,1880,8.86,1638,8.88,1900,8.90,1670,8.92,1840,8.94,1724,8.94,1811,8.96,1930,8.98,1746,9.00,1779,9.02,1681,9.05,1677,
9.04,1870,9.07,1950,9.10,1900,9.13,1833,9.16,1960,9.18,1920,9.21,1876,9.24,1975,9.27,1940,9.30,1985,9.33,1950,9.37,1870,9.40,1990,9.43,1908,9.46,1975,9.50,1995,9.53,1772,
9.58,1985,9.62,2000,9.65,1941,9.68,1990,9.71,1876,9.74,2005,9.80,1995,9.85,2010,9.88,1963,9.92,2000,9.96,2015,9.99,1919,10.05,2005,10.10,1995,10.12,1924,10.18,2010,10.25,2000,10.32,2005,10.38,1995,10.44,1990,
10.50,2005,10.58,2000,10.65,1995,10.72,2010,10.80,1990,10.86,2000,10.92,1995,10.98,1990,10.96,2015,
8.82,1900,8.86,1930,8.90,1950,8.93,1880,8.97,1960,9.01,1925,9.06,1905,9.09,1985,9.12,1945,9.15,1880,9.19,1990,9.22,1955,9.26,1905,9.29,1965,9.34,1995,9.38,1940,9.42,2000,9.48,1960,
8.70,1860,8.74,1700,8.60,1650,8.65,1720,8.50,1620,8.40,1560,8.35,1450,8.22,1420,8.05,1450,7.87,1400,7.96,1450,8.16,1500,
8.09,1337,8.21,1352,7.85,1514,7.32,962
];

const xTicks = [2, 4, 6, 8, 10, 12];
const yTicks = [0, 500, 1000, 1500, 2000, 2500];
const namesLeft = ['Nonoverlap data of date A', 'Overlap data of date A and B', 'Nonoverlap data of date B', 'Baseline data'];
const namesRight = ['Nonoverlap degraded date A', 'Overlap degraded date A and B', 'Nonoverlap degraded date B'];
const xTitle = 'Wind Speed (m/s)';
const yTitle = 'Power (KW)';
const panelLabels = ['(a)', '(b)'];

// ---------------- helpers ----------------
function xs(p){const r=[];for(let i=0;i<p.length;i+=2)r.push(p[i]);return r;}
function ys(p){const r=[];for(let i=1;i<p.length;i+=2)r.push(p[i]);return r;}

const W = 3754, H = 1836;
const FONT = 'Liberation Sans, Arial, Helvetica, sans-serif';
const AX = '#262626';
const RED = '#FF0000', BLUE = '#0000FF', GREEN = '#00FF00';

const mkSquare = {symbol:'square-open', size:14, color:RED, line:{color:RED, width:2}};
const mkDot = {symbol:'circle', size:9, color:BLUE, line:{width:0}};
const mkDiamond = {symbol:'diamond-open', size:17, color:GREEN, line:{color:GREEN, width:2}};
const mkStar = {symbol:'star', size:12, color:RED, line:{width:0}};

function tr(pairs, name, marker, xa, ya, leg){
  return {type:'scatter', mode:'markers', x:xs(pairs), y:ys(pairs), name:name,
          marker:marker, xaxis:xa, yaxis:ya, legend:leg, hoverinfo:'skip', cliponaxis:true};
}

const traces = [
  tr(nonoverlapAPairs, namesLeft[0], mkSquare, 'x', 'y', 'legend'),
  tr(overlapPairs, namesLeft[1], mkDot, 'x', 'y', 'legend'),
  tr(nonoverlapBPairs, namesLeft[2], mkDiamond, 'x', 'y', 'legend'),
  tr(baselinePairs, namesLeft[3], mkStar, 'x', 'y', 'legend'),
  tr(nonoverlapAPairs, namesRight[0], mkSquare, 'x2', 'y2', 'legend2'),
  tr(overlapPairs, namesRight[1], mkDot, 'x2', 'y2', 'legend2'),
  tr(nonoverlapBPairs, namesRight[2], mkDiamond, 'x2', 'y2', 'legend2')
];

function axis(domain, range, ticks, anchor, standoff){
  return {domain:domain, range:range, anchor:anchor, tickmode:'array', tickvals:ticks,
    ticktext:ticks.map(String), showline:true, mirror:'ticks', linecolor:AX, linewidth:2.5,
    ticks:'inside', ticklen:15, tickwidth:2.5, tickcolor:AX, showgrid:false, zeroline:false,
    tickfont:{family:FONT, size:61, color:AX}, ticklabelstandoff:standoff, fixedrange:true};
}

// plot boxes in pixels
const L = {x0:279, x1:1816, y0:143, y1:1495};
const R = {x0:2201, x1:3680, y0:138, y1:1510};
const px = v => v / W, py = v => 1 - v / H;

const legendStyle = {bgcolor:'#FFFFFF', bordercolor:AX, borderwidth:2, xanchor:'right', yanchor:'top',
  font:{family:FONT, size:61, color:'#000000'}, itemsizing:'trace', itemwidth:76, tracegroupgap:0, traceorder:'normal'};

function ann(text, x, y, angle){
  return {text:text, x:px(x), y:py(y), xref:'paper', yref:'paper', showarrow:false,
    xanchor:'center', yanchor:'middle', textangle:angle||0, font:{family:FONT, size:66, color:AX}};
}

const layout = {
  width:W, height:H, margin:{l:0, r:0, t:0, b:0}, paper_bgcolor:'#FFFFFF', plot_bgcolor:'#FFFFFF',
  showlegend:true,
  xaxis: axis([px(L.x0), px(L.x1)], [2,12], xTicks, 'y', 22),
  yaxis: axis([py(L.y1), py(L.y0)], [0,2500], yTicks, 'x', 14),
  xaxis2: axis([px(R.x0), px(R.x1)], [2,12], xTicks, 'y2', 22),
  yaxis2: axis([py(R.y1), py(R.y0)], [0,2500], yTicks, 'x2', 14),
  legend: Object.assign({}, legendStyle, {x:px(1816), y:py(56)}),
  legend2: Object.assign({}, legendStyle, {x:px(3680), y:py(137)}),
  annotations: [
    ann(xTitle, 1072, 1646),
    ann(panelLabels[0], 1072, 1738),
    ann(yTitle, 83, 868, -90),
    ann(xTitle, 2940, 1653),
    ann(panelLabels[1], 2938, 1742),
    ann(yTitle, 2001, 823, -90)
  ]
};

Plotly.newPlot('chart', traces, layout, {displayModeBar:false, staticPlot:true});
</script>
</body>
</html>
